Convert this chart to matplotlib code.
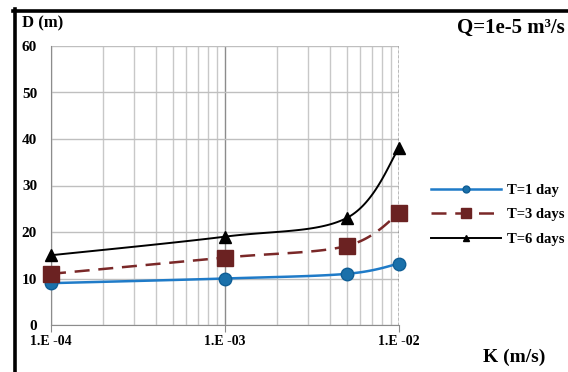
import numpy as np
import matplotlib
matplotlib.use("Agg")
import matplotlib.pyplot as plt
from matplotlib.lines import Line2D
from matplotlib.ticker import FixedLocator, LogLocator, NullFormatter

plt.rcParams["font.family"] = ["Liberation Serif", "DejaVu Serif"]
plt.rcParams["font.weight"] = "bold"

# Hydraulic conductivity K (m/s) and drawdown distance D (m)
k_values = [1e-4, 1e-3, 5e-3, 1e-2]
d_1day = [9.0, 10.0, 11.0, 13.2]
d_3days = [11.0, 14.5, 17.0, 24.0]
d_6days = [15.0, 19.0, 23.0, 38.0]
series_labels = ["T=1 day", "T=3 days", "T=6 days"]
x_ticks = [1e-4, 1e-3, 1e-2]
x_tick_labels = ["1.E -04", "1.E -03", "1.E -02"]
y_ticks = [0, 10, 20, 30, 40, 50, 60]


def smooth(xs, ys, px_per_decade=174.0, px_per_unit=4.65, n=40):
    """Excel-style smoothed line: cardinal bezier in screen-like units."""
    u = np.log10(xs) * px_per_decade
    v = np.asarray(ys) * px_per_unit
    pts = np.column_stack([u, v])
    out = [pts[0]]
    t = np.linspace(0, 1, n)[1:]
    for i in range(len(pts) - 1):
        p0 = pts[max(i - 1, 0)]
        p1, p2 = pts[i], pts[i + 1]
        p3 = pts[min(i + 2, len(pts) - 1)]
        c1 = p1 + (p2 - p0) / 6.0
        c2 = p2 - (p3 - p1) / 6.0
        seg = ((1 - t) ** 3)[:, None] * p1 + (3 * (1 - t) ** 2 * t)[:, None] * c1 \
            + (3 * (1 - t) * t ** 2)[:, None] * c2 + (t ** 3)[:, None] * p2
        out.extend(seg)
    out = np.array(out)
    return 10 ** (out[:, 0] / px_per_decade), out[:, 1] / px_per_unit


fig = plt.figure(figsize=(5.68, 3.72), dpi=100)
ax = fig.add_axes([51 / 568, 1 - 325 / 372, 348 / 568, 279 / 372])
ax.set_xscale("log")
ax.set_xlim(1e-4, 1e-2)
ax.set_ylim(0, 60)

# grid: decades darker, minor lines lighter
ax.xaxis.set_major_locator(FixedLocator(x_ticks))
ax.xaxis.set_minor_locator(LogLocator(base=10, subs=np.arange(2, 10)))
ax.xaxis.set_minor_formatter(NullFormatter())
ax.set_xticklabels(x_tick_labels)
ax.set_yticks(y_ticks)
ax.grid(which="major", axis="x", color="#8c8c8c", linewidth=1.0)
ax.grid(which="minor", axis="x", color="#c8c8c8", linewidth=1.0)
ax.grid(which="major", axis="y", color="#bfbfbf", linewidth=1.0)
ax.set_axisbelow(True)
for side in ("top", "right"):
    ax.spines[side].set_visible(False)
ax.spines["left"].set_color("#8c8c8c")
ax.spines["bottom"].set_color("#8c8c8c")
ax.tick_params(axis="x", which="major", direction="out", length=5, color="#8c8c8c",
               labelsize=10, pad=2)
ax.tick_params(axis="x", which="minor", length=0)
ax.tick_params(axis="y", length=0, labelsize=11, pad=10)
for lab in ax.get_xticklabels() + ax.get_yticklabels():
    lab.set_fontweight("bold")
ax.axvline(1e-2, color="black", linestyle=(0, (2, 1.5)), linewidth=1.0, zorder=3)

styles = [
    dict(color="#1f7bc8", linestyle="-", linewidth=1.8, marker="o", ms=9,
         mfc="#1a70aa", mec="#0f5e96"),
    dict(color="#7a2828", linestyle=(0, (6, 3.5)), linewidth=1.8, marker="s", ms=12,
         mfc="#6b2222", mec="#6b2222"),
    dict(color="black", linestyle="-", linewidth=1.4, marker="^", ms=9,
         mfc="black", mec="black"),
]
handles = []
for ys, label, st in zip([d_1day, d_3days, d_6days], series_labels, styles):
    sx, sy = smooth(k_values, ys)
    ax.plot(sx, sy, color=st["color"], linestyle=st["linestyle"],
            linewidth=st["linewidth"], zorder=4)
    ax.plot(k_values, ys, linestyle="none", marker=st["marker"], ms=st["ms"],
            mfc=st["mfc"], mec=st["mec"], zorder=5, clip_on=False)
    handles.append(Line2D([], [], color=st["color"], linestyle=st["linestyle"],
                          linewidth=st["linewidth"], marker=st["marker"],
                          ms=st["ms"] * 0.55, mfc=st["mfc"], mec=st["mec"],
                          label=label))

fig.legend(handles=handles, loc="upper left", bbox_to_anchor=(418 / 568, 1 - 171 / 372),
           frameon=False, handlelength=4.8, handletextpad=0.4,
           labelspacing=0.75, prop={"weight": "bold", "size": 10.5})

fig.text(22 / 568, 1 - 23 / 372, "D (m)", fontsize=12, fontweight="bold", va="center")
fig.text(565 / 568, 1 - 28 / 372, "Q=1e-5 m³/s", fontsize=15,
         fontweight="bold", ha="right", va="center")
fig.text(545 / 568, 1 - 357 / 372, "K (m/s)", fontsize=14, fontweight="bold",
         ha="right", va="center")

# outer frame on left and top edges
fig.add_artist(Line2D([14.5 / 568, 14.5 / 568], [0, 1 - 9 / 372], color="black",
                      linewidth=2.6, transform=fig.transFigure))
fig.add_artist(Line2D([13 / 568, 1], [1 - 10.5 / 372, 1 - 10.5 / 372], color="black",
                      linewidth=2.6, transform=fig.transFigure))

fig.savefig("out.png", dpi=100)
